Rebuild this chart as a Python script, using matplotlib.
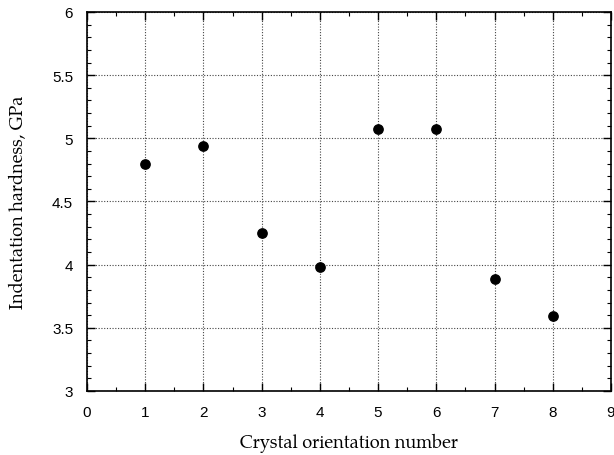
import matplotlib
matplotlib.use("Agg")
import matplotlib.pyplot as plt
from matplotlib.ticker import MultipleLocator

orientation = [1, 2, 3, 4, 5, 6, 7, 8]
hardness = [4.80, 4.94, 4.25, 3.98, 5.07, 5.07, 3.89, 3.59]
xticks = [0, 1, 2, 3, 4, 5, 6, 7, 8, 9]
yticks = [3, 3.5, 4, 4.5, 5, 5.5, 6]
ytick_labels = ["3", "3.5", "4", "4.5", "5", "5.5", "6"]

plt.rcParams["font.family"] = ["Liberation Sans", "DejaVu Sans"]

fig = plt.figure(figsize=(6.14, 4.56), dpi=100)
ax = fig.add_axes([0.1417, 0.1404, 0.8533, 0.8311])
ax.scatter(orientation, hardness, s=45, color="black", zorder=3)
ax.set_xlim(0, 9)
ax.set_ylim(3, 6)
ax.set_xticks(xticks)
ax.set_xticklabels([str(v) for v in xticks], fontsize=11)
ax.set_yticks(yticks)
ax.set_yticklabels(ytick_labels, fontsize=11)
ax.xaxis.set_minor_locator(MultipleLocator(0.5))
ax.yaxis.set_minor_locator(MultipleLocator(0.1))
ax.tick_params(which="both", direction="in", top=True, right=True, color="black")
ax.tick_params(which="major", length=6, width=1, pad=10)
ax.tick_params(which="minor", length=3, width=0.8)
ax.grid(True, which="major", linestyle=(0, (1, 1.5)), color="#444444", linewidth=0.8)
for s in ax.spines.values():
    s.set_linewidth(1.2)
ax.set_xlabel("Crystal orientation number", family=["TeX Gyre Pagella", "DejaVu Serif"], fontsize=13, labelpad=10)
ax.set_ylabel("Indentation hardness, GPa", family=["TeX Gyre Pagella", "DejaVu Serif"], fontsize=13, labelpad=17)
fig.savefig("out.png", dpi=100)
